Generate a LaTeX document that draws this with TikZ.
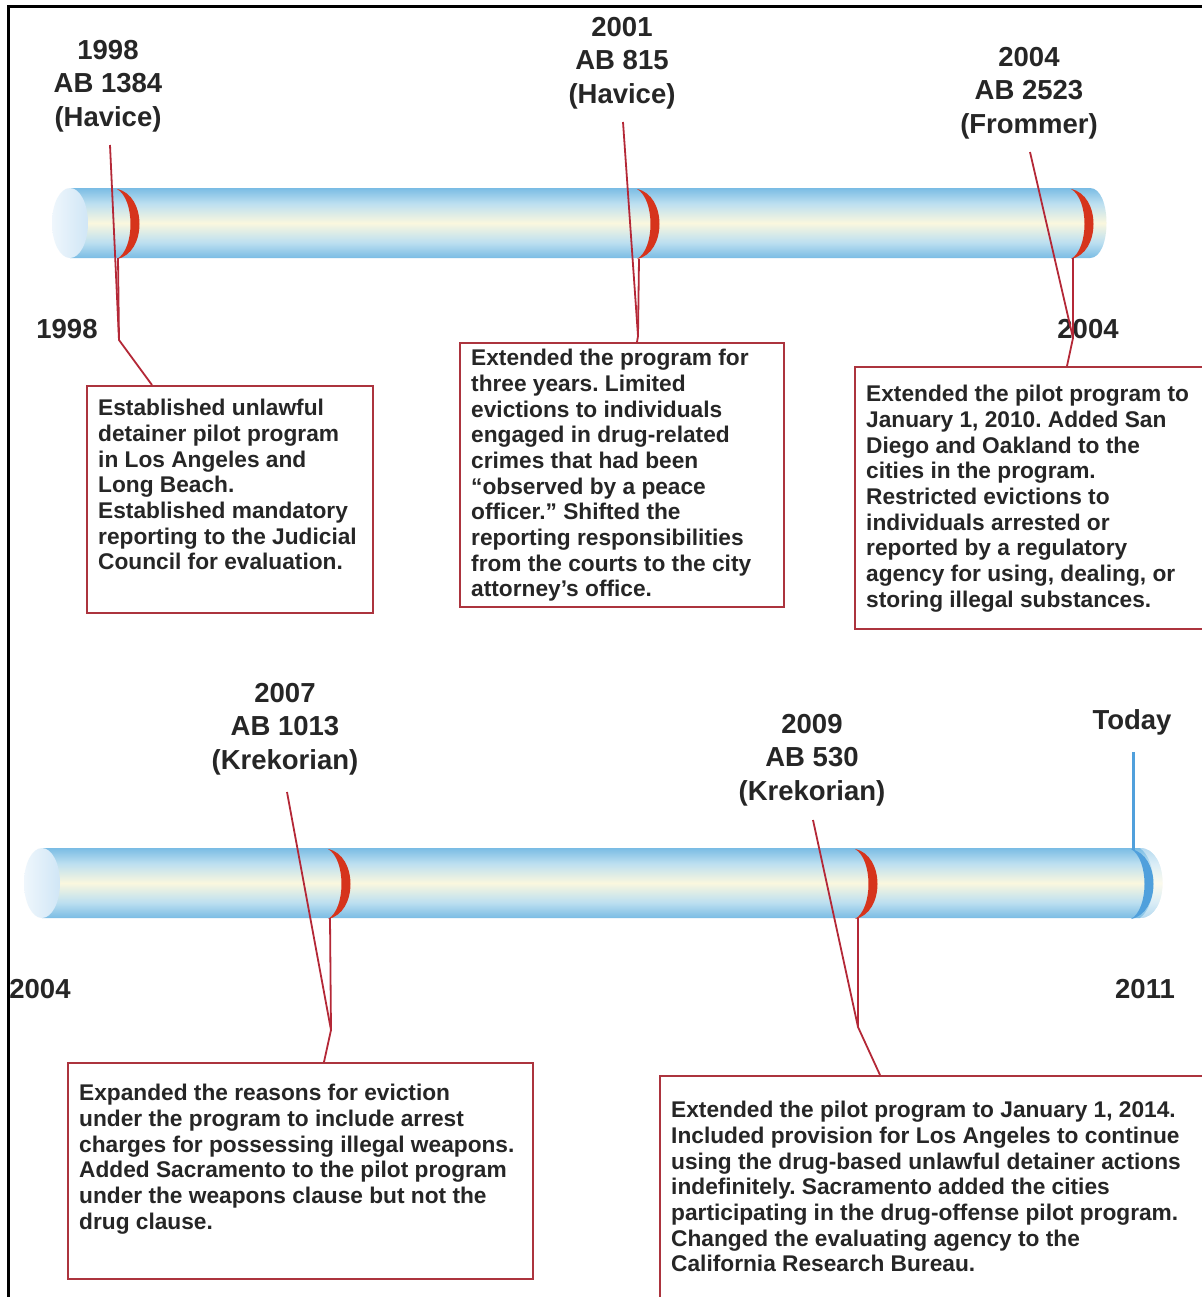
\documentclass[tikz,border=0pt]{standalone}
\usepackage{fontspec}
\setmainfont{Liberation Sans}
\frenchspacing
\definecolor{tubeblue}{RGB}{122,188,228}
\definecolor{tubelight}{RGB}{188,223,240}
\definecolor{tubecream}{RGB}{250,247,222}
\definecolor{capblue}{RGB}{208,230,246}
\definecolor{bandred}{RGB}{214,52,28}
\definecolor{linered}{RGB}{180,40,55}
\definecolor{boxred}{RGB}{172,52,62}
\definecolor{todayblue}{RGB}{80,160,220}
\definecolor{inkgray}{RGB}{38,38,38}
\pgfdeclareverticalshading{tube}{100bp}{color(0bp)=(tubeblue); color(25bp)=(tubeblue); color(36bp)=(tubelight); color(50bp)=(tubecream); color(64bp)=(tubelight); color(75bp)=(tubeblue); color(100bp)=(tubeblue)}
\newcommand{\bandmark}[3]{%
  \fill[#3] (#1,#2) .. controls (#1+30,#2+6) and (#1+30,#2+64) .. (#1,#2+70)
     .. controls (#1+18,#2+60) and (#1+18,#2+10) .. (#1,#2) -- cycle;}
\tikzset{
  hdr/.style={anchor=north, align=center, inner sep=0pt, text=inkgray,
              font=\bfseries\fontsize{27.5bp}{33.5bp}\selectfont},
  yearlbl/.style={inner sep=0pt, text=inkgray, font=\bfseries\fontsize{27.5bp}{33.5bp}\selectfont},
  body/.style={anchor=north west, align=left, inner sep=0pt, text=inkgray,
               font=\bfseries\fontsize{22.7bp}{25.7bp}\selectfont\frenchspacing},
  box/.style={draw=boxred, line width=2bp, anchor=north west, inner sep=0pt},
  conn/.style={draw=linered, line width=1.8bp, line join=round},
}
\begin{document}
\begin{tikzpicture}[x=1bp,y=-1bp]
\useasboundingbox (0,0) rectangle (1202,1297);
\clip (0,0) rectangle (1202,1297);
\fill[white] (0,0) rectangle (1202,1297);
% frame
\draw[line width=3bp] (8,1300) -- (8,6) -- (1210,6);

% ---------- top tube ----------
\shade[shading=tube] (70,188) -- (1090,188) .. controls (1112,188) and (1112,258) .. (1090,258) -- (70,258) -- cycle;
\shade[left color=capblue!35!white, right color=capblue] (70,223) ellipse [x radius=18, y radius=35];
\bandmark{117}{189}{bandred}
\bandmark{637}{189}{bandred}
\bandmark{1071}{189}{bandred}

% ---------- bottom tube ----------
\shade[shading=tube] (42,848) -- (1140,848) .. controls (1170,848) and (1170,918) .. (1140,918) -- (42,918) -- cycle;
\fill[white, opacity=0.45] (1140,848) .. controls (1170,848) and (1170,918) .. (1140,918) .. controls (1158,905) and (1158,861) .. (1140,848) -- cycle;
\shade[left color=capblue!35!white, right color=capblue] (42,883) ellipse [x radius=18, y radius=35];
\bandmark{328}{849}{bandred}
\bandmark{855}{849}{bandred}
\bandmark{1131}{849}{todayblue}

% ---------- headers ----------
\node[hdr] (h1) at (108,40) {1998\\AB 1384\\(Havice)};
\node[hdr] (h2) at (622,17) {2001\\AB 815\\(Havice)};
\node[hdr] (h3) at (1029,47) {2004\\AB 2523\\(Frommer)};
\node[hdr] (h4) at (285,683) {2007\\AB 1013\\(Krekorian)};
\node[hdr] (h5) at (812,714) {2009\\AB 530\\(Krekorian)};
\node[yearlbl] (today) at (1132,722) {Today};

% ---------- range labels ----------
\node[yearlbl] (y1) at (67,329) {1998};
\node[yearlbl] (y2) at (1088,329) {2004};
\node[yearlbl] (y3) at (40,989) {2004};
\node[yearlbl] (y4) at (1145,989) {2011};

% ---------- boxes ----------
\node[box, minimum width=286bp, minimum height=227bp] (b1) at (86,385) {};
\node[box, minimum width=324bp, minimum height=264bp] (b2) at (459,342) {};
\node[box, minimum width=360bp, minimum height=262bp] (b3) at (854,366) {};
\node[box, minimum width=465bp, minimum height=216bp] (b4) at (67,1062) {};
\node[box, minimum width=560bp, minimum height=260bp] (b5) at (659,1075) {};

\node[body] (t1) at (98,399) {Established unlawful\\detainer pilot program\\in Los Angeles and\\Long Beach.\\Established mandatory\\reporting to the Judicial\\Council for evaluation.};
\node[body] (t2) at (471,349) {Extended the program for\\three years. Limited\\evictions to individuals\\engaged in drug-related\\crimes that had been\\“observed by a peace\\officer.” Shifted the\\reporting responsibilities\\from the courts to the city\\attorney’s office.};
\node[body] (t3) at (866,385) {Extended the pilot program to\\January 1, 2010. Added San\\Diego and Oakland to the\\cities in the program.\\Restricted evictions to\\individuals arrested or\\reported by a regulatory\\agency for using, dealing, or\\storing illegal substances.};
\node[body] (t4) at (79,1084) {Expanded the reasons for eviction\\under the program to include arrest\\charges for possessing illegal weapons.\\Added Sacramento to the pilot program\\under the weapons clause but not the\\drug clause.};
\node[body] (t5) at (671,1101) {Extended the pilot program to January 1, 2014.\\Included provision for Los Angeles to continue\\using the drug-based unlawful detainer actions\\indefinitely. Sacramento added the cities\\participating in the drug-offense pilot program.\\Changed the evaluating agency to the\\California Research Bureau.};

% ---------- connector points ----------
\coordinate (s1) at (110,145); \coordinate (k1) at (119,340); \coordinate (v1) at (118,258); \coordinate (e1) at (152,385);
\coordinate (s2) at (623,122); \coordinate (k2) at (638,336); \coordinate (v2) at (639,259); \coordinate (e2) at (637,342);
\coordinate (s3) at (1030,152); \coordinate (k3) at (1073,338); \coordinate (v3) at (1073,258); \coordinate (e3) at (1067,366);
\coordinate (s4) at (287,792); \coordinate (k4) at (331,1030); \coordinate (v4) at (330,918); \coordinate (e4) at (324,1062);
\coordinate (s5) at (813,820); \coordinate (k5) at (858,1027); \coordinate (v5) at (858,918); \coordinate (e5) at (880,1075);
\coordinate (s6) at (1133,752); \coordinate (v6) at (1133,850);

\draw[conn] (s1) -- (k1) -- (e1);  \draw[conn] (v1) -- (k1);
\draw[conn] (s2) -- (k2) -- (e2);  \draw[conn] (v2) -- (k2);
\draw[conn] (s3) -- (k3) -- (e3);  \draw[conn] (v3) -- (k3);
\draw[conn] (s4) -- (k4) -- (e4);  \draw[conn] (v4) -- (k4);
\draw[conn] (s5) -- (k5) -- (e5);  \draw[conn] (v5) -- (k5);
\draw[draw=todayblue, line width=3bp] (s6) -- (v6);
\end{tikzpicture}
\end{document}
